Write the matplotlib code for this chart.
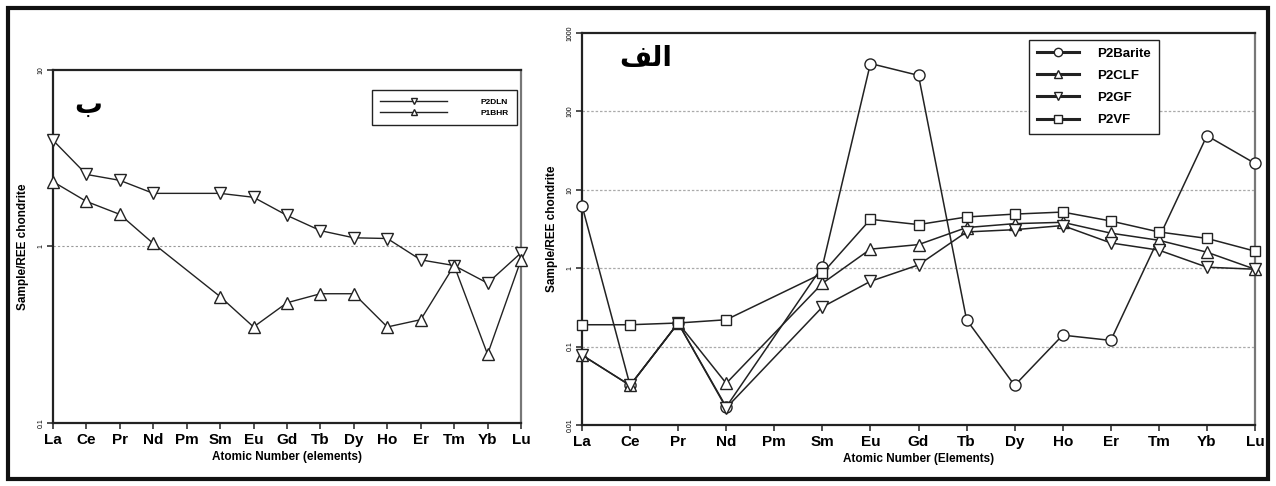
import numpy as np
import matplotlib
matplotlib.use("Agg")
import matplotlib.pyplot as plt
from matplotlib.patches import Rectangle

# ---------------- data ----------------
elements = ["La", "Ce", "Pr", "Nd", "Pm", "Sm", "Eu", "Gd", "Tb", "Dy", "Ho", "Er", "Tm", "Yb", "Lu"]
nan = np.nan

# left panel (ب)
p2dln = [4.0, 2.56, 2.37, 2.0, nan, 2.0, 1.9, 1.5, 1.23, 1.12, 1.11, 0.84, 0.78, 0.62, 0.92]
p1bhr = [2.33, 1.8, 1.52, 1.04, nan, 0.52, 0.35, 0.48, 0.54, 0.54, 0.35, 0.385, 0.78, 0.245, 0.84]

# right panel (الف)
p2barite = [6.3, 0.032, 0.2, 0.017, nan, 1.05, 408, 288, 0.22, 0.032, 0.14, 0.12, nan, 49, 21.7]
p2clf = [0.078, 0.032, 0.2, 0.034, nan, 0.64, 1.75, 2.0, 3.3, 3.7, 3.85, 2.8, 2.27, 1.6, 0.97]
p2gf = [0.078, 0.032, 0.2, 0.0165, nan, 0.32, 0.68, 1.1, 2.9, 3.1, 3.5, 2.1, 1.7, 1.03, 0.97]
p2vf = [0.19, 0.19, 0.2, 0.22, nan, 0.86, 4.2, 3.6, 4.5, 4.9, 5.2, 4.0, 2.9, 2.4, 1.65]

left_yticks = [0.1, 1, 10]
left_yticklabels = ["0.1", "1", "10"]
right_yticks = [0.01, 0.1, 1, 10, 100, 1000]
right_yticklabels = ["0.01", "0.1", "1", "10", "100", "1000"]

W, H = 1276, 486
fig = plt.figure(figsize=(W / 100, H / 100), dpi=100)
fig.patch.set_facecolor("white")

def fx(px):
    return px / W

def fy(py):
    return 1 - py / H

FONT = "Liberation Sans"

def plot_series(ax, vals, marker, ms, label, mew=1.0, lw=1.0, color="#222222"):
    x = np.arange(len(elements))
    v = np.array(vals, dtype=float)
    m = ~np.isnan(v)
    ax.plot(x[m], v[m], color=color, lw=lw, marker=marker, ms=ms, mfc="white",
            mec="#222222", mew=mew, label=label, clip_on=False, zorder=3)

def style_axes(ax, yticks, ylabels, xlabel, ylim):
    ax.set_yscale("log")
    ax.set_xlim(0, len(elements) - 1)
    ax.set_ylim(*ylim)
    ax.set_xticks(np.arange(len(elements)))
    ax.set_xticklabels(elements, fontfamily=FONT, fontweight="bold", fontsize=11)
    ax.set_yticks(yticks)
    ax.set_yticklabels(ylabels, fontfamily=FONT, fontsize=5, rotation=90, va="center")
    ax.yaxis.set_minor_locator(matplotlib.ticker.NullLocator())
    ax.tick_params(axis="x", direction="out", length=4, width=1.2, pad=3, color="#333333")
    ax.tick_params(axis="y", direction="out", length=4, width=1.2, pad=2, color="#333333")
    for s in ["left", "bottom", "top"]:
        ax.spines[s].set_linewidth(1.6)
        ax.spines[s].set_color("#222222")
    ax.spines["right"].set_linewidth(1.6)
    ax.spines["right"].set_color("#777777")
    ax.set_xlabel(xlabel, fontfamily=FONT, fontweight="bold", fontsize=8.5, labelpad=3)
    ax.set_ylabel("Sample/REE chondrite", fontfamily=FONT, fontweight="bold", fontsize=8.5, labelpad=6)

# ---------------- left panel ----------------
axL = fig.add_axes([fx(53), fy(423), fx(521 - 53), (423 - 70) / H])
style_axes(axL, left_yticks, left_yticklabels, "Atomic Number (elements)", (0.1, 10))
axL.axhline(1, color="#999999", lw=0.8, ls=(0, (2, 2)), zorder=1)
plot_series(axL, p2dln, "v", 8, "P2DLN")
plot_series(axL, p1bhr, "^", 8, "P1BHR")
legL = axL.legend(loc="upper right", bbox_to_anchor=(1.0, 0.955), fancybox=False,
                  framealpha=1, edgecolor="#222222", borderpad=1.0, labelspacing=0.3,
                  handlelength=8.0, markerscale=0.5, handletextpad=4.0,
                  prop={"family": FONT, "weight": "bold", "size": 6})
legL.get_frame().set_linewidth(1.0)
axL.text(0.045, 0.9, "ب", transform=axL.transAxes, fontfamily="DejaVu Sans",
         fontweight="bold", fontsize=20, ha="left", va="center")

# ---------------- right panel ----------------
axR = fig.add_axes([fx(582), fy(425), fx(1255 - 582), (425 - 33) / H])
style_axes(axR, right_yticks, right_yticklabels, "Atomic Number (Elements)", (0.01, 1000))
for yv in [0.1, 1, 10, 100]:
    axR.axhline(yv, color="#aaaaaa", lw=0.9, ls=(0, (2, 1.5)), zorder=1)
plot_series(axR, p2barite, "o", 8, "P2Barite", lw=1.1)
plot_series(axR, p2clf, "^", 8, "P2CLF", lw=1.1)
plot_series(axR, p2gf, "v", 8, "P2GF", lw=1.1)
plot_series(axR, p2vf, "s", 7.5, "P2VF", lw=1.1)
legR = axR.legend(loc="upper left", bbox_to_anchor=(0.654, 1.0), fancybox=False,
                  framealpha=1, edgecolor="#222222", borderpad=0.6, labelspacing=0.75,
                  handlelength=3.2, markerscale=0.75, handletextpad=1.4,
                  prop={"family": FONT, "weight": "bold", "size": 9.5})
legR.get_frame().set_linewidth(1.0)
for ln in legR.get_lines():
    ln.set_linewidth(2.2)
# Arabic "الف" written with its joined presentation forms in visual order
axR.text(0.055, 0.935, "\ufed2\ufedf\ufe8d", transform=axR.transAxes, fontfamily="DejaVu Sans",
         fontweight="bold", fontsize=20, ha="left", va="center")

# outer frame
fig.patches.append(Rectangle((fx(8), fy(479)), fx(1268 - 8), (479 - 8) / H,
                             transform=fig.transFigure, fill=False, lw=3, edgecolor="#111111"))

fig.savefig("out.png", dpi=100)
